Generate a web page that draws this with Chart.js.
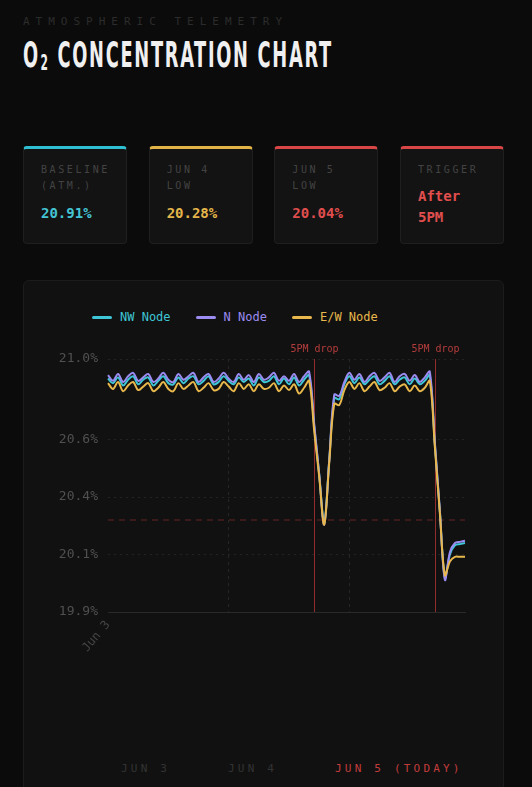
<!DOCTYPE html>
<html>
<head>
<meta charset="utf-8">
<script src="https://cdn.jsdelivr.net/npm/chart.js@4.4.1/dist/chart.umd.min.js"></script>
<style>
  html, body { margin: 0; padding: 0; }
  body {
    width: 532px; height: 787px; overflow: hidden; position: relative;
    background: #0b0b0b; font-family: 'DejaVu Sans Mono', monospace;
  }
  .eyebrow {
    position: absolute; left: 23px; top: 15px;
    font-size: 11px; letter-spacing: 6px; color: #2c2c2c;
  }
  .title {
    position: absolute; left: 23px; top: 35px; margin: 0;
    font-family: 'DejaVu Sans Condensed', 'DejaVu Sans', sans-serif;
    font-stretch: condensed;
    font-weight: bold; font-size: 35px; letter-spacing: 3px; color: #f0f0f0;
    white-space: nowrap; transform-origin: left top;
  }
  .title sub { font-size: 21px; vertical-align: -3px; margin-left: 1px; }
  .cards {
    position: absolute; left: 23px; top: 146px; width: 481px;
    display: flex; justify-content: space-between;
  }
  .card {
    box-sizing: border-box; width: 104px; height: 98px;
    background: #131313; border: 1px solid #1f1f1f; border-top: 3px solid;
    border-radius: 4px; padding: 13px 10px 0 17px;
  }
  .card .lbl { font-size: 10px; line-height: 16px; letter-spacing: 2.6px; color: #434343; }
  .card .val { font-size: 14px; font-weight: bold; line-height: 20px; margin-top: 9px; }
  .card .val.two { line-height: 21px; margin-top: 8px; }
  .panel {
    position: absolute; left: 23px; top: 280px; width: 481px; height: 540px;
    box-sizing: border-box; background: #111111; border: 1px solid #1c1c1c; border-radius: 6px;
  }
  .legend {
    position: absolute; left: 92px; top: 309px; display: flex; gap: 25px;
    font-size: 12px; line-height: 16px;
  }
  .legend span { display: flex; align-items: center; gap: 8px; }
  .legend i { display: inline-block; width: 20px; height: 3px; border-radius: 2px; }
  .chart-box { position: absolute; left: 43px; top: 335px; width: 441px; height: 330px; }
  .days { position: absolute; left: 121px; top: 762px; display: flex; font-size: 11px; letter-spacing: 3.2px; }
  .days span { width: 107px; white-space: nowrap; color: #333; }
  .days span.today { color: #c23c3c; }
</style>
</head>
<body>
<div class="eyebrow">ATMOSPHERIC TELEMETRY</div>
<h1 class="title" id="title">O<sub>2</sub> CONCENTRATION CHART</h1>

<div class="cards">
  <div class="card" style="border-top-color:#2fbfd2">
    <div class="lbl">BASELINE (ATM.)</div>
    <div class="val" style="color:#44c4d4">20.91%</div>
  </div>
  <div class="card" style="border-top-color:#e2b447">
    <div class="lbl">JUN 4 LOW</div>
    <div class="val" style="color:#e4b64a">20.28%</div>
  </div>
  <div class="card" style="border-top-color:#d94646">
    <div class="lbl">JUN 5 LOW</div>
    <div class="val" style="color:#e04e4e">20.04%</div>
  </div>
  <div class="card" style="border-top-color:#d94646">
    <div class="lbl">TRIGGER</div>
    <div class="val two" style="color:#e04e4e">After 5PM</div>
  </div>
</div>

<div class="panel"></div>
<div class="legend" id="legend"></div>
<div class="chart-box"><canvas id="o2chart"></canvas></div>
<div class="days">
  <span>JUN 3</span><span>JUN 4</span><span class="today">JUN 5 (TODAY)</span>
</div>

<script>
// squeeze the heading to the narrow width of the original
const titleEl = document.getElementById('title');
titleEl.style.transform = `scaleX(${310 / titleEl.scrollWidth})`;

// hourly readings, Jun 3 00:00 -> Jun 5 23:00
const hours = Array.from({ length: 72 }, (_, i) => i);

const nwNode = [
  20.915, 20.895, 20.92, 20.885, 20.91, 20.925, 20.89, 20.91, 20.92, 20.885,
  20.905, 20.925, 20.895, 20.89, 20.92, 20.895, 20.915, 20.925, 20.89, 20.905,
  20.925, 20.89, 20.90, 20.925, 20.905, 20.89, 20.92, 20.90, 20.915, 20.885,
  20.92, 20.90, 20.905, 20.925, 20.89, 20.915, 20.89, 20.92, 20.885, 20.91,
  20.93, 20.71, 20.50, 20.29, 20.56, 20.83, 20.825, 20.89, 20.925, 20.895,
  20.92, 20.89, 20.91, 20.925, 20.89, 20.905, 20.925, 20.89, 20.91, 20.92,
  20.89, 20.915, 20.89, 20.905, 20.93, 20.63, 20.34, 20.05, 20.15, 20.19,
  20.195, 20.20
];
const nNode = [
  20.93, 20.905, 20.935, 20.90, 20.925, 20.94, 20.905, 20.92, 20.935, 20.90,
  20.915, 20.94, 20.91, 20.90, 20.935, 20.91, 20.925, 20.94, 20.90, 20.92,
  20.935, 20.90, 20.915, 20.94, 20.915, 20.90, 20.935, 20.91, 20.93, 20.90,
  20.935, 20.91, 20.92, 20.94, 20.905, 20.925, 20.905, 20.935, 20.90, 20.925,
  20.945, 20.72, 20.50, 20.28, 20.56, 20.845, 20.84, 20.90, 20.94, 20.91,
  20.935, 20.90, 20.925, 20.94, 20.905, 20.92, 20.94, 20.90, 20.925, 20.935,
  20.905, 20.93, 20.90, 20.92, 20.945, 20.64, 20.34, 20.04, 20.16, 20.20,
  20.205, 20.21
];
const ewNode = [
  20.895, 20.87, 20.90, 20.86, 20.885, 20.90, 20.865, 20.88, 20.895, 20.86,
  20.875, 20.90, 20.87, 20.86, 20.895, 20.87, 20.885, 20.90, 20.86, 20.875,
  20.895, 20.865, 20.87, 20.90, 20.88, 20.86, 20.895, 20.87, 20.89, 20.86,
  20.89, 20.87, 20.875, 20.895, 20.86, 20.885, 20.865, 20.89, 20.85, 20.875,
  20.905, 20.69, 20.49, 20.28, 20.55, 20.805, 20.80, 20.865, 20.90, 20.87,
  20.895, 20.86, 20.88, 20.90, 20.865, 20.875, 20.895, 20.86, 20.88, 20.89,
  20.86, 20.885, 20.86, 20.875, 20.905, 20.62, 20.33, 20.06, 20.12, 20.14,
  20.14, 20.14
];

const yTicks = [19.9, 20.15, 20.4, 20.65, 21.0];
const yTickLabels = ['19.9%', '20.1%', '20.4%', '20.6%', '21.0%'];
const dayStarts = [24, 48];
const dropHours = [41, 65];
const dropLabel = '5PM drop';
const thresholdO2 = 20.3;

const series = [
  { label: 'NW Node', data: nwNode, color: '#3fc6d6', order: 2 },
  { label: 'N Node', data: nNode, color: '#9b8cf2', order: 1 },
  { label: 'E/W Node', data: ewNode, color: '#e8b84c', order: 0 }
];

// html legend
const legendEl = document.getElementById('legend');
series.forEach(s => {
  const item = document.createElement('span');
  item.style.color = s.color;
  item.innerHTML = `<i style="background:${s.color}"></i>${s.label}`;
  legendEl.appendChild(item);
});

// red markers: 5PM drop lines + threshold
const dropMarkers = {
  id: 'dropMarkers',
  beforeDatasetsDraw(chart) {
    const { ctx, chartArea, scales: { x, y } } = chart;
    ctx.save();
    const ty = y.getPixelForValue(thresholdO2);
    ctx.strokeStyle = 'rgba(200,60,60,0.45)';
    ctx.lineWidth = 1;
    ctx.setLineDash([6, 5]);
    ctx.beginPath();
    ctx.moveTo(chartArea.left, ty);
    ctx.lineTo(chartArea.right, ty);
    ctx.stroke();

    ctx.setLineDash([]);
    ctx.strokeStyle = 'rgba(190,55,55,0.75)';
    ctx.fillStyle = '#b53c3c';
    ctx.font = "10px 'DejaVu Sans Mono', monospace";
    ctx.textAlign = 'center';
    ctx.textBaseline = 'middle';
    dropHours.forEach(h => {
      const px = Math.round(x.getPixelForValue(h)) + 0.5;
      ctx.beginPath();
      ctx.moveTo(px, chartArea.top);
      ctx.lineTo(px, chartArea.bottom);
      ctx.stroke();
      ctx.fillText(dropLabel, px, chartArea.top - 10);
    });
    ctx.restore();
  }
};

new Chart(document.getElementById('o2chart'), {
  type: 'line',
  data: {
    labels: hours,
    datasets: series.map(s => ({
      label: s.label,
      data: s.data,
      borderColor: s.color,
      backgroundColor: s.color,
      borderWidth: 2,
      pointRadius: 0,
      tension: 0.35,
      order: s.order
    }))
  },
  options: {
    responsive: true,
    maintainAspectRatio: false,
    animation: false,
    layout: { padding: { top: 24, right: 19, left: 0, bottom: 0 } },
    plugins: { legend: { display: false }, tooltip: { enabled: false } },
    scales: {
      x: {
        afterFit: (scale) => { scale.height = 53; },
        grid: {
          drawTicks: false,
          color: (ctx) => dayStarts.includes(ctx.index) ? '#262626' : 'transparent'
        },
        border: { display: true, color: '#2a2a2a', dash: [3, 4] },
        ticks: {
          autoSkip: false,
          minRotation: 50,
          maxRotation: 50,
          padding: 6,
          color: '#444',
          font: { family: "'DejaVu Sans Mono', monospace", size: 12 },
          callback: (v, i) => i === 0 ? 'Jun 3' : ''
        }
      },
      y: {
        min: 19.9,
        max: 21.0,
        afterFit: (scale) => { scale.width = 65; },
        afterBuildTicks: (scale) => { scale.ticks = yTicks.map(v => ({ value: v })); },
        grid: { drawTicks: false, color: '#232323' },
        border: { display: false, dash: [2, 4] },
        ticks: {
          padding: 10,
          color: '#505050',
          font: { family: "'DejaVu Sans Mono', monospace", size: 13 },
          callback: (v, i) => yTickLabels[i]
        }
      }
    }
  },
  plugins: [dropMarkers]
});
</script>
</body>
</html>
